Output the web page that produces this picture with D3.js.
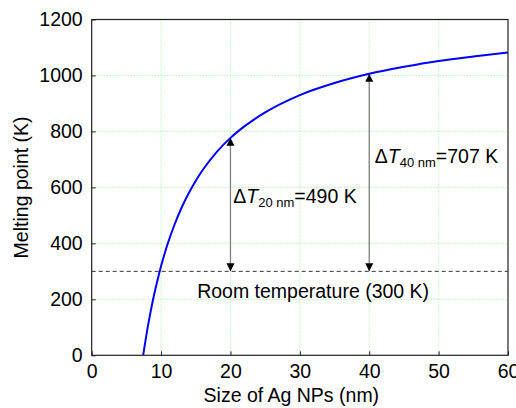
<!DOCTYPE html>
<html>
<head>
<meta charset="utf-8">
<script src="https://cdn.jsdelivr.net/npm/d3@7"></script>
<style>
  body { margin: 0; background: #fff; }
  text { font-family: "Liberation Sans", Arial, sans-serif; fill: #000; }
</style>
</head>
<body>
<svg width="516" height="408"></svg>
<script>
// values
var sizes = [7.42, 7.6, 8, 8.5, 9, 9.5, 10, 11, 12, 13, 14, 15, 16, 18, 20, 22, 25, 30, 35, 40, 45, 50, 55, 60];
var meltPoints = [0, 29, 90, 157, 217, 270, 319, 402, 471, 530, 580, 624, 662, 726, 777, 818, 868, 930, 973, 1006, 1031, 1052, 1068, 1082];
var xTicks = [0, 10, 20, 30, 40, 50, 60];
var yTicks = [0, 200, 400, 600, 800, 1000, 1200];
var roomTemp = 300;
var arrows = [
  { size: 20, top: 777, label: "20 nm", value: "=490 K" },
  { size: 40, top: 1006, label: "40 nm", value: "=707 K" }
];

var svg = d3.select("svg"),
    margin = { top: 19.5, right: 8, bottom: 52.7, left: 91.7 },
    width = +svg.attr("width") - margin.left - margin.right,
    height = +svg.attr("height") - margin.top - margin.bottom;

var fs = "19.5px";

var x = d3.scaleLinear().domain([0, 60]).range([0, width]);
var y = d3.scaleLinear().domain([0, 1200]).range([height, 0]);

var data = sizes.map(function (d, i) { return { size: d, value: meltPoints[i] }; });

var g = svg.append("g").attr("transform", "translate(" + margin.left + "," + margin.top + ")");

var defs = svg.append("defs");
defs.append("clipPath").attr("id", "clip")
  .append("rect").attr("width", width).attr("height", height);
defs.append("marker")
  .attr("id", "head")
  .attr("viewBox", "0 0 10 10")
  .attr("refX", 10).attr("refY", 5)
  .attr("markerUnits", "userSpaceOnUse")
  .attr("markerWidth", 8).attr("markerHeight", 9)
  .attr("orient", "auto-start-reverse")
  .append("path").attr("d", "M0,0L10,5L0,10Z").attr("fill", "#000");

// grid
g.selectAll(".vgrid").data(xTicks.slice(1, -1)).enter().append("line")
  .attr("x1", d => x(d)).attr("x2", d => x(d))
  .attr("y1", 0).attr("y2", height)
  .attr("stroke", "#8ef58e").attr("stroke-dasharray", "1,2");
g.selectAll(".hgrid").data(yTicks.slice(1, -1)).enter().append("line")
  .attr("x1", 0).attr("x2", width)
  .attr("y1", d => y(d)).attr("y2", d => y(d))
  .attr("stroke", "#8ef58e").attr("stroke-dasharray", "1,2");

// room temperature line
g.append("line")
  .attr("x1", 0).attr("x2", width)
  .attr("y1", y(roomTemp)).attr("y2", y(roomTemp))
  .attr("stroke", "#333").attr("stroke-dasharray", "4,3");

g.append("text")
  .attr("x", x(15.2)).attr("y", y(203))
  .style("font-size", fs)
  .text("Room temperature (300 K)");

// arrows
g.selectAll(".arrow").data(arrows).enter().append("line")
  .attr("x1", d => x(d.size)).attr("x2", d => x(d.size))
  .attr("y1", d => y(d.top)).attr("y2", y(roomTemp))
  .attr("stroke", "#808080").attr("stroke-width", 1.3)
  .attr("marker-start", "url(#head)")
  .attr("marker-end", "url(#head)");

var labelPos = [{ x: 20.4, y: 545 }, { x: 40.8, y: 688 }];
arrows.forEach(function (a, i) {
  var t = g.append("text")
    .attr("x", x(labelPos[i].x)).attr("y", y(labelPos[i].y))
    .style("font-size", fs);
  t.append("tspan").text("\u0394");
  t.append("tspan").style("font-style", "italic").text("T");
  t.append("tspan").attr("dy", 4).style("font-size", "13px").text(a.label);
  t.append("tspan").attr("dy", -4).text(a.value);
});

// curve
g.append("path").datum(data)
  .attr("clip-path", "url(#clip)")
  .attr("fill", "none")
  .attr("stroke", "#0000ff")
  .attr("stroke-width", 2)
  .attr("d", d3.line().curve(d3.curveMonotoneX)
    .x(d => x(d.size)).y(d => y(d.value)));

// axes
var xAxis = g.append("g").attr("transform", "translate(0," + height + ")")
  .call(d3.axisBottom(x).tickValues(xTicks).tickFormat(d3.format("d"))
    .tickSizeInner(-4).tickSizeOuter(0).tickPadding(9));
var yAxis = g.append("g")
  .call(d3.axisLeft(y).tickValues(yTicks).tickFormat(d3.format("d"))
    .tickSizeInner(-4).tickSizeOuter(0).tickPadding(9));
[xAxis, yAxis].forEach(function (a) {
  a.select(".domain").remove();
  a.selectAll("line").attr("stroke", "#222");
  a.selectAll("text").style("font-size", fs)
    .style("font-family", "'Liberation Sans', Arial, sans-serif").attr("fill", "#000");
});

g.append("rect")
  .attr("width", width).attr("height", height)
  .attr("fill", "none").attr("stroke", "#222").attr("stroke-width", 1.2);

g.append("text")
  .attr("x", width / 2 - 8.5).attr("y", height + 47)
  .attr("text-anchor", "middle")
  .style("font-size", fs)
  .text("Size of Ag NPs (nm)");

g.append("text")
  .attr("transform", "translate(" + (-63.5) + "," + (height / 2) + ") rotate(-90)")
  .attr("text-anchor", "middle")
  .style("font-size", fs)
  .text("Melting point (K)");
</script>
</body>
</html>
